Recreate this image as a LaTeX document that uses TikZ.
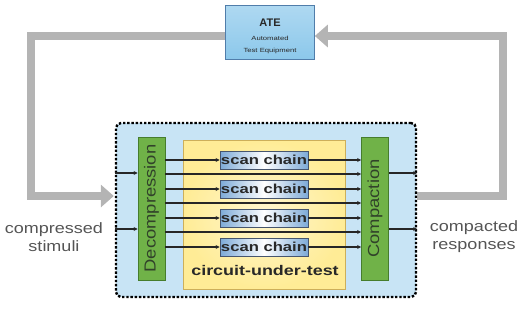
\documentclass[tikz,border=0pt]{standalone}
\usepackage{fontspec}
\setmainfont{Liberation Sans}
\newfontfamily\widea[FakeStretch=1.2]{Liberation Sans}
\newfontfamily\wideb[FakeStretch=1.28]{Liberation Sans}
\newfontfamily\widec[FakeStretch=1.15]{Liberation Sans}
\usetikzlibrary{arrows.meta}
\definecolor{loopgray}{RGB}{180,180,180}
\definecolor{dutblue}{RGB}{200,228,245}
\definecolor{grnfill}{RGB}{112,178,72}
\definecolor{grnline}{RGB}{70,125,45}
\definecolor{cutfill}{RGB}{255,236,150}
\definecolor{cutline}{RGB}{205,175,90}
\definecolor{chainblue}{RGB}{125,170,215}
\definecolor{chainline}{RGB}{70,85,110}
\definecolor{atefill}{RGB}{140,200,235}
\definecolor{ateline}{RGB}{80,125,170}
\definecolor{labelgray}{RGB}{85,85,85}
\definecolor{txtdark}{RGB}{40,40,40}
\pgfdeclarelayer{background}
\pgfsetlayers{background,main}
\tikzset{
  loopline/.style={draw=loopgray,line width=8pt,-{Triangle[length=13pt,width=22pt]}},
  sigline/.style={draw=black!85,line width=1.1pt,-{Stealth[length=4pt,width=4pt]}},
  atebox/.style={draw=ateline,line width=0.6pt,top color=atefill!70!white,bottom color=atefill,
    minimum width=89pt,minimum height=54pt,inner sep=0pt},
  dutbox/.style={draw=black,line width=2.4pt,dash pattern=on 2.4pt off 1.8pt,fill=dutblue,
    rounded corners=5pt,minimum width=300pt,minimum height=174pt},
  grnbox/.style={draw=grnline,line width=0.8pt,fill=grnfill,minimum width=27pt,minimum height=143pt,inner sep=0pt},
  grntext/.style={rotate=90,text=txtdark!70!grnline,font=\widec\fontsize{16}{16}\selectfont},
  cutbox/.style={draw=cutline,line width=0.8pt,inner color=cutfill!45!white,outer color=cutfill,
    minimum width=162pt,minimum height=149pt},
  chainbox/.style={draw=chainline,line width=0.8pt,left color=chainblue,right color=chainblue,middle color=white,
    minimum width=88pt,minimum height=18pt,inner sep=0pt,font=\wideb\fontsize{13}{13}\selectfont\bfseries,text=txtdark},
  sidelabel/.style={align=center,text=labelgray,font=\widea\fontsize{15}{18}\selectfont}
}
\begin{document}
\begin{tikzpicture}[x=1pt,y=-1pt]
\useasboundingbox (0,0) rectangle (518,325);
\node[atebox] (ate) at (270,32) {};
\node[align=center,inner sep=0pt,text=txtdark] (atetxt) at ([yshift=-4pt]ate.center)
  {{\fontsize{11}{12}\selectfont\bfseries ATE}\\[2pt]{\wideb\fontsize{6}{8}\selectfont Automated}\\{\wideb\fontsize{6}{8}\selectfont Test Equipment}};
\node[dutbox] (dut) at (266,210) {};
\node[cutbox] (cut) at (264,214.5) {};
\node[grnbox] (dec) at (151.5,208.5) {};
\node[grntext] (dectxt) at (dec.center) {Decompression};
\node[grnbox] (cmp) at (375,208.5) {};
\node[grntext] (cmptxt) at (cmp.center) {Compaction};
\foreach \i/\y in {1/160,2/189,3/218,4/247}{
  \node[chainbox] (sc\i) at (264,\y) {scan chain};
  \draw[sigline] (dec.east |- sc\i.west) -- (sc\i.west);
  \draw[sigline] (sc\i.east) -- (cmp.west |- sc\i.east);
}
\foreach \y in {174,203,232}{
  \coordinate (a) at (dec.east |- 0,\y);
  \coordinate (b) at (cmp.west |- 0,\y);
  \draw[sigline] (a) -- (b);
}
\node[font=\wideb\fontsize{14}{14}\selectfont\bfseries,text=txtdark] (cutlbl) at (265,270) {circuit-under-test};
\foreach \y in {173,229}{
  \coordinate (ia) at (dut.west |- 0,\y);
  \coordinate (ib) at (dec.west |- 0,\y);
  \draw[sigline] (ia) -- (ib);
  \coordinate (oa) at (cmp.east |- 0,\y);
  \coordinate (ob) at (dut.east |- 0,\y);
  \draw[sigline] (oa) -- (ob);
}
\node[sidelabel] (stim) at (54,237) {compressed\\stimuli};
\node[sidelabel] (resp) at (474,237) {compacted\\responses};
\begin{pgfonlayer}{background}
  \coordinate (ateL) at (ate.west |- 0,36);
  \coordinate (ateR) at (ate.east |- 0,36);
  \coordinate (dutL) at (dut.west |- 0,196);
  \coordinate (dutR) at (dut.east |- 0,196);
  \draw[loopline] (ateL) -- (31,36) -- (31,196) -- ([xshift=-1pt]dutL);
  \draw[loopline] (dutR) -- (503,196) -- (503,36) -- (ateR);
\end{pgfonlayer}
\end{tikzpicture}
\end{document}
